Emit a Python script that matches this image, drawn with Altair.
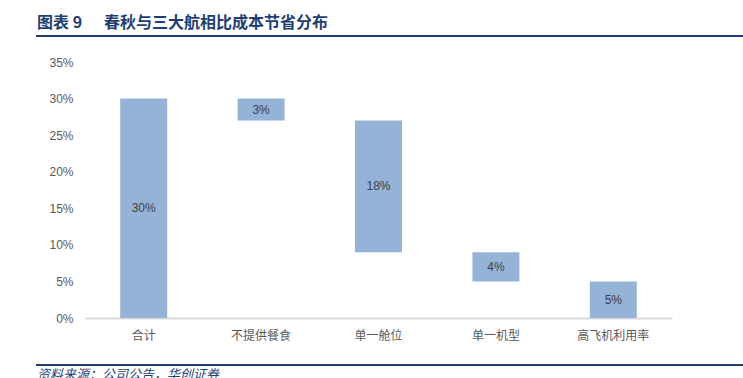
import altair as alt
import pandas as pd

categories = ["合计", "不提供餐食", "单一舱位", "单一机型", "高飞机利用率"]
starts = [0, 27, 9, 5, 0]
ends = [30, 30, 27, 9, 5]
values = [30, 3, 18, 4, 5]
y_ticks = [0, 5, 10, 15, 20, 25, 30, 35]

df = pd.DataFrame({
    "cat": categories,
    "start": starts,
    "end": ends,
    "label": [f"{v}%" for v in values],
})
df["mid"] = (df["start"] + df["end"]) / 2

FONT = "Noto Sans CJK SC"
NUM_FONT = "Liberation Sans"

yscale = alt.Scale(domain=[0, 35], nice=False)
xscale = alt.Scale(paddingInner=0.6, paddingOuter=0.3)

xaxis = alt.Axis(labelAngle=0, ticks=False, domainColor="#d9d9d9", domainWidth=2,
                 labelColor="#595959", labelFontSize=12, labelFont=FONT,
                 labelPadding=12)
yaxis = alt.Axis(values=y_ticks, grid=False, domain=False, ticks=False,
                 labelOverlap=False,
                 labelExpr="datum.value + '%'", labelColor="#595959",
                 labelFontSize=12, labelFont=NUM_FONT, labelPadding=12)

bars = alt.Chart(df).mark_bar(color="#95B3D7").encode(
    x=alt.X("cat:N", sort=categories, title=None, scale=xscale, axis=xaxis),
    y=alt.Y("start:Q", title=None, scale=yscale, axis=yaxis),
    y2="end:Q",
)

texts = alt.Chart(df).mark_text(color="#404040", fontSize=12, font=NUM_FONT).encode(
    x=alt.X("cat:N", sort=categories, title=None, scale=xscale, axis=xaxis),
    y=alt.Y("mid:Q", title=None, scale=yscale, axis=yaxis),
    text="label:N",
)

deco = pd.DataFrame({"d": [0]})
title_a = alt.Chart(deco).mark_text(
    text="图表 9", align="left", baseline="alphabetic",
    fontSize=16, fontWeight="bold", font=FONT, color="#1F3F73"
).encode(x=alt.value(-48), y=alt.value(-34))

title_b = alt.Chart(deco).mark_text(
    text="春秋与三大航相比成本节省分布", align="left", baseline="alphabetic",
    fontSize=16, fontWeight="bold", font=FONT, color="#1F3F73"
).encode(x=alt.value(19), y=alt.value(-34))

title_line = alt.Chart(deco).mark_rule(color="#1F3F73", strokeWidth=2).encode(
    x=alt.value(-49), x2=alt.value(658), y=alt.value(-26))

foot_line = alt.Chart(deco).mark_rule(color="#1F3F73", strokeWidth=2).encode(
    x=alt.value(-49), x2=alt.value(658), y=alt.value(303))

foot_txt = alt.Chart(deco).mark_text(
    text="资料来源：公司公告，华创证券", align="left", baseline="top",
    fontSize=13, font=FONT, fontStyle="italic", color="#1F3F73"
).encode(x=alt.value(-48), y=alt.value(307))

chart = alt.layer(bars, texts, title_a, title_b, title_line, foot_line, foot_txt).properties(
    width=587, height=256,
    padding={"left": 85, "top": 62, "right": 71, "bottom": 60},
    autosize="none",
).configure(background="white").configure_view(stroke=None)

chart.save("out.html", embed_options={"renderer": "svg", "actions": False})
